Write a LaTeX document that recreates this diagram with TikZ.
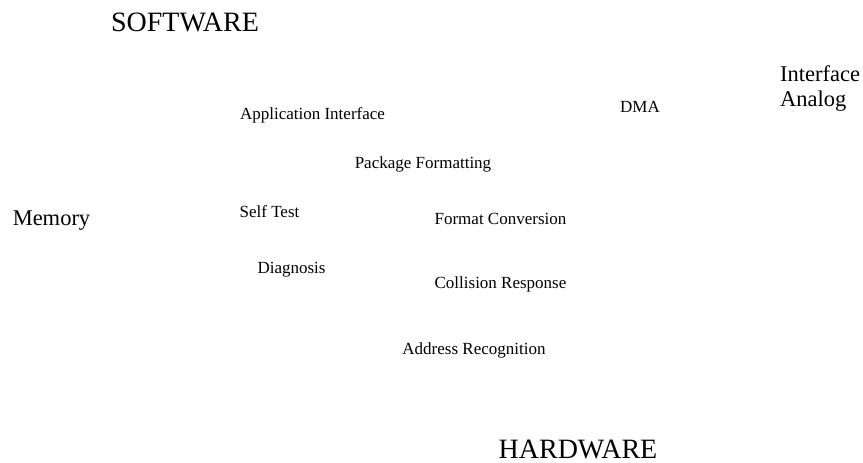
\documentclass[tikz,border=0pt]{standalone}
\usepackage{fontspec}
\setmainfont{Liberation Serif}
\begin{document}
\begin{tikzpicture}[x=1pt,y=-1pt,
  lbl/.style={inner sep=0pt,font=\fontsize{17}{20}\selectfont},
  mid/.style={inner sep=0pt,font=\fontsize{22.5}{25}\selectfont},
  big/.style={inner sep=0pt,font=\fontsize{28}{30}\selectfont}]
  \useasboundingbox (0,0) rectangle (863,463);
  % layer titles
  \node[big] (sw) at (185,22.5) {SOFTWARE};
  \node[big] (hw) at (578,449) {HARDWARE};
  % side blocks
  \node[mid] (mem) at (51.5,221) {Memory};
  \node[mid,align=left,anchor=west] (ana) at (780,89) {Interface\\Analog};
  % functional blocks
  \node[lbl] (app) at (312.5,115) {Application Interface};
  \node[lbl] (dma) at (640,107) {DMA};
  \node[lbl] (pkg) at (423,164.5) {Package Formatting};
  \node[lbl] (self) at (269.5,211.5) {Self Test};
  \node[lbl] (fmt) at (500.5,219) {Format Conversion};
  \node[lbl] (diag) at (291.5,269.5) {Diagnosis};
  \node[lbl] (coll) at (500.5,284.5) {Collision Response};
  \node[lbl] (addr) at (474,350) {Address Recognition};
\end{tikzpicture}
\end{document}
